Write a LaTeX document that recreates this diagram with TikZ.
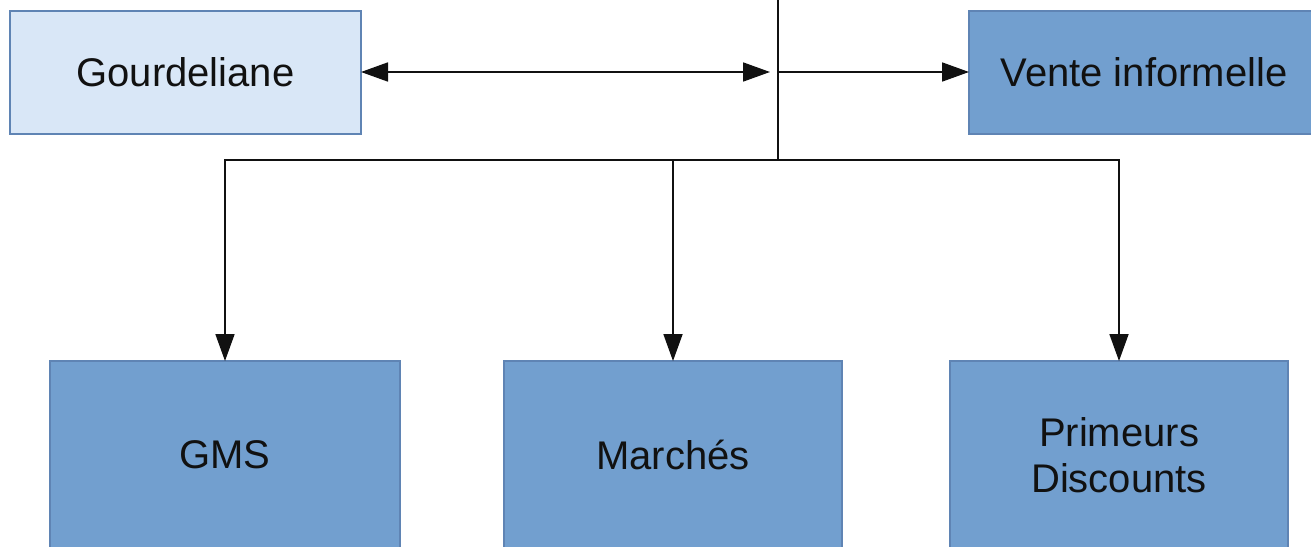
\documentclass[tikz,border=0pt]{standalone}
\usepackage{fontspec}
\setmainfont{Liberation Sans}
\usetikzlibrary{arrows.meta}
\definecolor{paleblue}{HTML}{D9E7F7}
\definecolor{midblue}{HTML}{729FCF}
\definecolor{edgeblue}{HTML}{5F84B4}
\definecolor{ink}{HTML}{111111}
\begin{document}
\begin{tikzpicture}[x=1pt,y=-1pt,
  box/.style={draw=edgeblue,line width=1.2pt,fill=midblue,outer sep=0pt,inner sep=0pt,
    align=center,font=\fontsize{40}{46}\selectfont,text=ink},
  lightbox/.style={box,fill=paleblue},
  conn/.style={draw=ink,line width=1.8pt},
  tip/.style={-{Triangle[length=27pt,width=19pt]}},
  bitip/.style={{Triangle[length=27pt,width=19pt]}-{Triangle[length=27pt,width=19pt]}}]
\useasboundingbox (0,0) rectangle (1311,546);
\clip (0,0) rectangle (1311,546);
\fill[white] (0,0) rectangle (1311,546);

\node[lightbox,minimum width=351pt,minimum height=123pt] (gour) at (185.5,72.5) {Gourdeliane};
\node[box,minimum width=350pt,minimum height=123pt] (vente) at (1144,72.5) {Vente informelle};
\node[box,minimum width=350pt,minimum height=188pt] (gms) at (225,455) {GMS};
\node[box,minimum width=338pt,minimum height=188pt] (mar) at (673,455) {Marchés};
\node[box,minimum width=338pt,minimum height=188pt] (prim) at (1119,455) {Primeurs\\Discounts};

\coordinate (top) at (778,0);
\coordinate (jn) at (778,72);
\coordinate (jl) at (770,72);
\coordinate (bot) at (778,160);

\draw[conn,line width=2.6pt] (top) -- (bot);
\draw[conn,bitip] (gour.east |- jn) -- (jl);
\draw[conn,tip] (jn) -- (vente.west |- jn);
\draw[conn,tip] (bot) -| (gms.north);
\draw[conn,tip] (bot) -| (prim.north);
\draw[conn,tip] (mar.north |- bot) -- (mar.north);
\end{tikzpicture}
\end{document}
